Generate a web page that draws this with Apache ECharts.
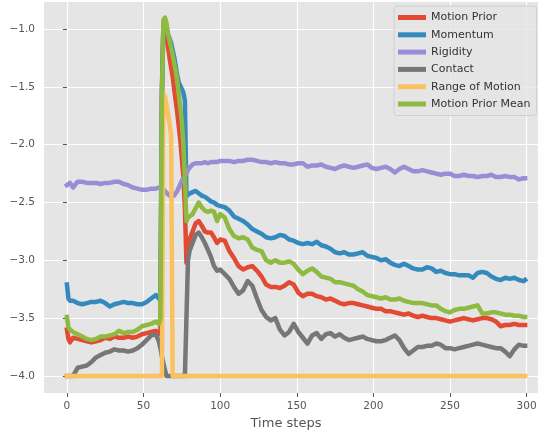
<!DOCTYPE html>
<html>
<head>
<meta charset="utf-8">
<script src="https://cdn.jsdelivr.net/npm/echarts@6/dist/echarts.min.js"></script>
<style>
  html, body { margin: 0; padding: 0; background: #fff; }
  #chart { width: 538px; height: 437px; }
</style>
</head>
<body>
<div id="chart"></div>
<script>
// time steps shared by the five noisy curves
var steps = [
  0, 1, 2, 4, 7, 10, 13, 16, 19, 22, 25, 28, 31, 34, 37, 40, 43, 46, 49, 52, 55, 58,
  60,
  61, 62, 63, 64, 65, 66, 67, 68, 69, 70, 71, 72, 73, 74, 75, 76, 77, 78, 79, 80,
  82, 84, 86, 88, 90, 92, 94, 96, 98, 100,
  103, 106, 109, 112, 115, 118, 121, 124, 127, 130,
  133, 136, 139, 142, 145, 148, 151, 154, 157, 160,
  163, 166, 169, 172, 175, 178, 181, 184, 187, 190,
  193, 196, 199, 202, 205, 208, 211, 214, 217, 220,
  223, 226, 229, 232, 235, 238, 241, 244, 247, 250,
  253, 256, 259, 262, 265, 268, 271, 274, 277, 280,
  283, 286, 289, 292, 295, 298,
  299
];

var motionPrior = [
  -3.60, -3.68, -3.71, -3.67, -3.68, -3.69, -3.70, -3.71, -3.70, -3.69, -3.67, -3.68, -3.66, -3.67, -3.67, -3.66, -3.67, -3.66, -3.64, -3.63, -3.62, -3.61,
  -3.64,
  -3.60, -1.60, -0.95, -1.00, -1.08, -1.15, -1.25, -1.33, -1.41, -1.52, -1.62, -1.72, -1.84, -1.96, -2.12, -2.28, -2.55, -3.02, -2.88, -2.82,
  -2.75, -2.68, -2.66, -2.70, -2.75, -2.76, -2.76, -2.80, -2.85, -2.82,
  -2.83, -2.92, -2.98, -3.05, -3.08, -3.06, -3.05, -3.09, -3.14, -3.21,
  -3.23, -3.23, -3.24, -3.22, -3.19, -3.21, -3.28, -3.31, -3.29, -3.29,
  -3.31, -3.32, -3.34, -3.33, -3.35, -3.37, -3.38, -3.37, -3.37, -3.38,
  -3.39, -3.40, -3.41, -3.42, -3.42, -3.44, -3.44, -3.45, -3.46, -3.47,
  -3.46, -3.48, -3.49, -3.48, -3.49, -3.50, -3.50, -3.51, -3.52, -3.53,
  -3.52, -3.51, -3.50, -3.51, -3.52, -3.51, -3.50, -3.50, -3.51, -3.53,
  -3.57, -3.56, -3.56, -3.55, -3.56, -3.56,
  -3.56
];

var momentum = [
  -3.21, -3.33, -3.35, -3.35, -3.37, -3.38, -3.37, -3.36, -3.36, -3.35, -3.37, -3.40, -3.38, -3.37, -3.36, -3.37, -3.37, -3.38, -3.38, -3.36, -3.33, -3.30,
  -3.33,
  -3.30, -1.50, -0.95, -0.97, -1.02, -1.05, -1.08, -1.12, -1.18, -1.24, -1.32, -1.40, -1.46, -1.49, -1.52, -1.55, -1.62, -2.45, -2.43, -2.42,
  -2.41, -2.40, -2.42, -2.44, -2.45, -2.47, -2.49, -2.50, -2.52, -2.53,
  -2.54, -2.57, -2.62, -2.64, -2.66, -2.69, -2.73, -2.75, -2.77, -2.80,
  -2.81, -2.80, -2.78, -2.79, -2.82, -2.83, -2.85, -2.86, -2.85, -2.86,
  -2.84, -2.87, -2.88, -2.90, -2.93, -2.94, -2.93, -2.95, -2.95, -2.94,
  -2.93, -2.96, -2.97, -2.98, -3.00, -2.99, -3.02, -3.04, -3.05, -3.03,
  -3.05, -3.07, -3.08, -3.08, -3.06, -3.07, -3.10, -3.09, -3.11, -3.12,
  -3.12, -3.13, -3.13, -3.13, -3.15, -3.11, -3.10, -3.11, -3.14, -3.16,
  -3.17, -3.15, -3.16, -3.15, -3.17, -3.18,
  -3.17
];

var rigidity = [
  -2.35, -2.34, -2.33, -2.37, -2.32, -2.32, -2.33, -2.33, -2.33, -2.34, -2.33, -2.33, -2.32, -2.32, -2.34, -2.35, -2.37, -2.38, -2.39, -2.39, -2.38, -2.38,
  -2.37,
  -2.37, -2.37, -2.38, -2.40, -2.41, -2.43, -2.44, -2.45, -2.45, -2.44, -2.42, -2.40, -2.37, -2.34, -2.31, -2.29, -2.27, -2.25, -2.22, -2.20,
  -2.17, -2.16, -2.16, -2.16, -2.15, -2.16, -2.15, -2.15, -2.15, -2.14,
  -2.14, -2.14, -2.15, -2.14, -2.14, -2.13, -2.13, -2.14, -2.15, -2.15,
  -2.16, -2.15, -2.16, -2.16, -2.17, -2.17, -2.16, -2.16, -2.19, -2.18,
  -2.18, -2.17, -2.19, -2.20, -2.21, -2.19, -2.18, -2.19, -2.20, -2.19,
  -2.18, -2.17, -2.20, -2.21, -2.20, -2.19, -2.21, -2.24, -2.21, -2.19,
  -2.21, -2.23, -2.23, -2.22, -2.23, -2.24, -2.25, -2.26, -2.25, -2.25,
  -2.27, -2.27, -2.26, -2.27, -2.27, -2.28, -2.27, -2.27, -2.26, -2.28,
  -2.28, -2.27, -2.28, -2.28, -2.30, -2.29,
  -2.29
];

var contact = [
  -4.00, -4.00, -4.00, -4.00, -3.93, -3.92, -3.91, -3.88, -3.84, -3.82, -3.80, -3.79, -3.77, -3.78, -3.78, -3.79, -3.78, -3.76, -3.73, -3.69, -3.65, -3.64,
  -3.70,
  -3.76, -3.83, -3.89, -3.95, -4.00, -4.00, -4.00, -4.00, -4.00, -4.00, -4.00, -4.00, -4.00, -4.00, -4.00, -4.00, -4.00, -3.50, -3.00, -2.92,
  -2.85, -2.78, -2.76, -2.80, -2.85, -2.91, -2.97, -3.05, -3.09, -3.08,
  -3.12, -3.16, -3.23, -3.29, -3.26, -3.18, -3.22, -3.33, -3.43, -3.49,
  -3.52, -3.50, -3.60, -3.65, -3.62, -3.55, -3.62, -3.67, -3.72, -3.65,
  -3.63, -3.68, -3.64, -3.63, -3.66, -3.64, -3.67, -3.69, -3.68, -3.67,
  -3.66, -3.68, -3.69, -3.70, -3.70, -3.69, -3.67, -3.65, -3.69, -3.76,
  -3.81, -3.78, -3.75, -3.75, -3.74, -3.74, -3.72, -3.73, -3.76, -3.76,
  -3.77, -3.76, -3.75, -3.74, -3.73, -3.72, -3.73, -3.74, -3.75, -3.76,
  -3.76, -3.79, -3.83, -3.77, -3.73, -3.74,
  -3.74
];

var motionPriorMean = [
  -3.49, -3.58, -3.60, -3.62, -3.64, -3.66, -3.68, -3.69, -3.68, -3.66, -3.66, -3.65, -3.64, -3.61, -3.63, -3.62, -3.62, -3.60, -3.57, -3.56, -3.55, -3.53,
  -3.55,
  -3.50, -1.60, -0.92, -0.90, -0.95, -1.04, -1.10, -1.16, -1.22, -1.30, -1.36, -1.45, -1.56, -1.68, -1.80, -2.00, -2.30, -2.66, -2.63, -2.62,
  -2.60, -2.55, -2.50, -2.54, -2.57, -2.58, -2.57, -2.58, -2.66, -2.60,
  -2.63, -2.73, -2.79, -2.81, -2.80, -2.82, -2.89, -2.91, -2.92, -3.00,
  -3.02, -3.00, -3.02, -3.02, -3.01, -3.03, -3.08, -3.12, -3.09, -3.07,
  -3.10, -3.14, -3.15, -3.16, -3.19, -3.19, -3.20, -3.21, -3.22, -3.25,
  -3.27, -3.30, -3.31, -3.32, -3.33, -3.32, -3.34, -3.34, -3.33, -3.35,
  -3.36, -3.37, -3.37, -3.37, -3.38, -3.39, -3.39, -3.42, -3.44, -3.45,
  -3.43, -3.42, -3.42, -3.41, -3.40, -3.39, -3.46, -3.46, -3.45, -3.45,
  -3.46, -3.47, -3.47, -3.48, -3.48, -3.49,
  -3.49
];

// range of motion is flat at -4 apart from one short pulse
var rangeSteps = [0, 62, 63, 64, 65, 66, 67, 68, 69, 299];
var rangeOfMotion = [-4.0, -4.0, -1.56, -1.58, -1.66, -1.74, -1.82, -1.92, -4.0, -4.0];

var xTicks = [0, 50, 100, 150, 200, 250, 300];
var yTicks = [-4.0, -3.5, -3.0, -2.5, -2.0, -1.5, -1.0];

function pairs(xs, ys) {
  return xs.map(function (x, i) { return [x, ys[i]]; });
}

function lineSeries(name, color, xs, ys) {
  return {
    name: name,
    type: "line",
    data: pairs(xs, ys),
    showSymbol: false,
    symbol: "none",
    color: color,
    lineStyle: { width: 4.5, color: color, join: "round", cap: "square" },
    emphasis: { disabled: true },
  };
}

var minus = function (v) {
  return v.toFixed(1).replace("-", "\u2212");
};

var chart = echarts.init(document.getElementById("chart"));
chart.setOption({
  animation: false,
  backgroundColor: "#ffffff",
  textStyle: { fontFamily: "DejaVu Sans" },
  grid: {
    left: 44,
    right: -10,
    top: 2,
    bottom: 44,
    show: true,
    backgroundColor: "#E5E5E5",
    borderWidth: 0,
    outerBoundsMode: "none",
  },
  legend: {
    orient: "vertical",
    left: 394,
    top: 6,
    padding: [5, 6, 5, 4],
    icon: "rect",
    itemWidth: 28,
    itemHeight: 5,
    itemGap: 4.3,
    backgroundColor: "rgba(229,229,229,0.8)",
    borderColor: "#d0d0d0",
    borderWidth: 1,
    borderRadius: 3,
    textStyle: { fontFamily: "DejaVu Sans", fontSize: 11, color: "#333", lineHeight: 13 },
  },
  xAxis: {
    type: "value",
    min: -14.95,
    max: 313.95,
    name: "Time steps",
    nameLocation: "middle",
    nameGap: 23,
    nameTextStyle: { fontFamily: "DejaVu Sans", fontSize: 13, color: "#555", padding: [0, 20, 0, 0] },
    axisLine: { show: false },
    axisTick: { show: true, length: 4, customValues: xTicks, lineStyle: { color: "#555" } },
    axisLabel: { customValues: xTicks, margin: 8, color: "#555", fontSize: 10.5, fontFamily: "DejaVu Sans" },
    splitLine: { show: true, lineStyle: { color: "#ffffff", width: 1.2 } },
  },
  yAxis: {
    type: "value",
    min: -4.148,
    max: -0.765,
    axisLine: { show: false },
    axisTick: { show: true, length: 4, customValues: yTicks, lineStyle: { color: "#555" } },
    axisLabel: { customValues: yTicks, margin: 9, color: "#555", fontSize: 10.5, fontFamily: "DejaVu Sans", formatter: minus },
    splitLine: { show: true, lineStyle: { color: "#ffffff", width: 1.2 } },
  },
  series: [
    lineSeries("Motion Prior", "#E24A33", steps, motionPrior),
    lineSeries("Momentum", "#348ABD", steps, momentum),
    lineSeries("Rigidity", "#988ED5", steps, rigidity),
    lineSeries("Contact", "#777777", steps, contact),
    lineSeries("Range of Motion", "#FBC15E", rangeSteps, rangeOfMotion),
    lineSeries("Motion Prior Mean", "#8EBA42", steps, motionPriorMean),
  ],
});
</script>
</body>
</html>
